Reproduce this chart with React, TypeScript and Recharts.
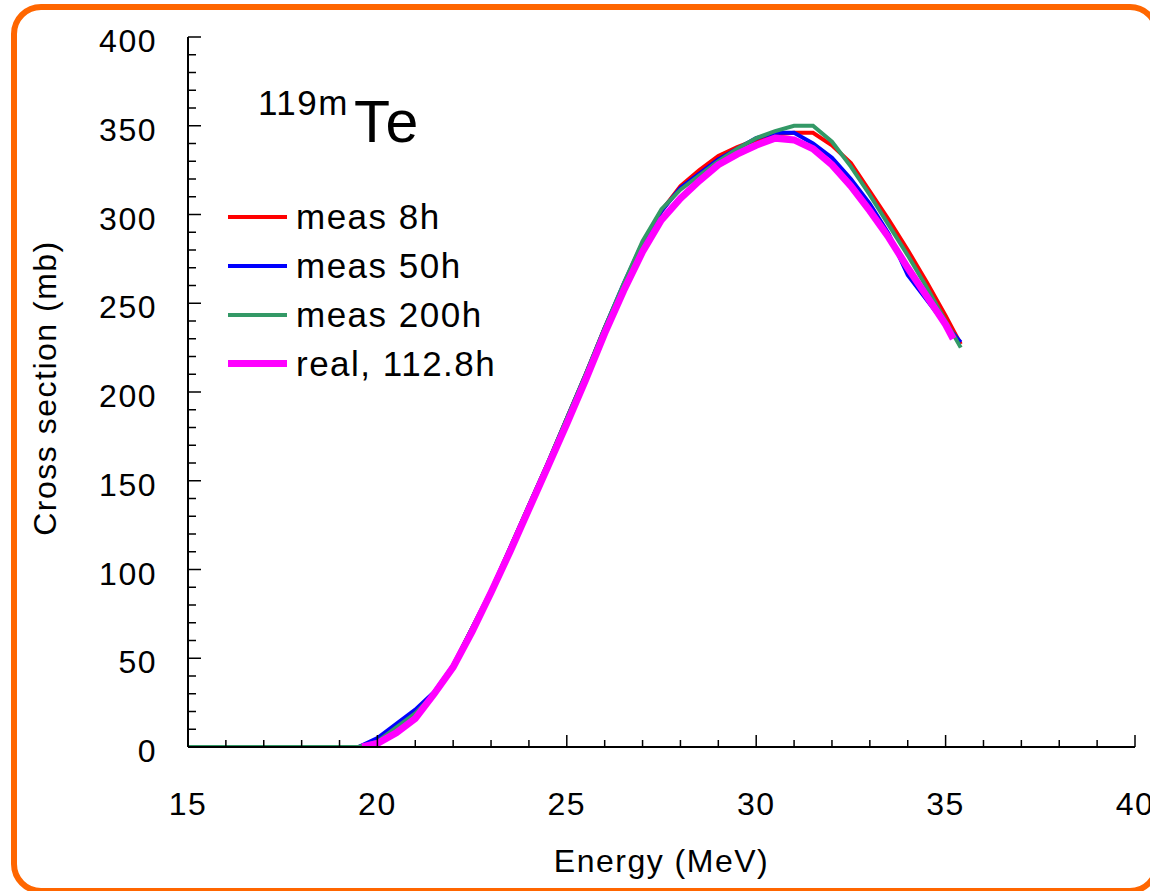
import React from 'react';
import { LineChart, Line, XAxis, YAxis, Legend } from 'recharts';

const FONT = '"Liberation Sans", Arial, Helvetica, sans-serif';

// Energy grid (MeV) for measured series
const energy = [15, 16, 17, 18, 19, 19.5, 20, 20.5, 21, 21.5, 22, 22.5, 23, 23.5, 24, 24.5, 25, 25.5, 26, 26.5, 27, 27.5, 28, 28.5, 29, 29.5, 30, 30.5, 31, 31.5, 32, 32.5, 33, 33.5, 34, 34.5, 35, 35.4];
const meas8h = [0, 0, 0, 0, 0, 0, 4, 12, 20, 30, 46, 67, 88, 112, 136, 160, 185, 210, 236, 260, 283, 302, 316, 325, 333, 338, 342, 345, 346, 346, 339, 329, 313, 297, 280, 262, 243, 227];
const meas50h = [0, 0, 0, 0, 0, 0, 5, 13, 21, 31, 46, 67, 88, 112, 136, 160, 185, 210, 236, 261, 284, 302, 315, 323, 331, 337, 343, 346, 346, 340, 332, 320, 306, 289, 266, 252, 238, 228];
const meas200h = [0, 0, 0, 0, 0, 0, 3, 11, 19, 30, 46, 67, 88, 112, 136, 160, 185, 210, 236, 261, 285, 303, 314, 322, 330, 337, 343, 347, 350, 350, 341, 327, 311, 294, 277, 259, 240, 225];

// Energy grid for the "real" series
const realEnergy = [19.6, 20, 20.5, 21, 21.5, 22, 22.5, 23, 23.5, 24, 24.5, 25, 25.5, 26, 26.5, 27, 27.5, 28, 28.5, 29, 29.5, 30, 30.5, 31, 31.5, 32, 32.5, 33, 33.5, 34, 34.5, 35, 35.2];
const real1128h = [0, 2, 8, 16, 30, 45, 65, 87, 110, 134, 158, 182, 207, 233, 257, 279, 297, 309, 319, 328, 334, 339, 343, 342, 337, 328, 316, 302, 287, 270, 254, 238, 230];

const xTicks = [15, 16, 17, 18, 19, 20, 21, 22, 23, 24, 25, 26, 27, 28, 29, 30, 31, 32, 33, 34, 35, 36, 37, 38, 39, 40];
const yTicks = [0, 10, 20, 30, 40, 50, 60, 70, 80, 90, 100, 110, 120, 130, 140, 150, 160, 170, 180, 190, 200, 210, 220, 230, 240, 250, 260, 270, 280, 290, 300, 310, 320, 330, 340, 350, 360, 370, 380, 390, 400];

const seriesNames = ['meas 8h', 'meas 50h', 'meas 200h', 'real, 112.8h'];
const seriesColors = ['#FF0000', '#0000FF', '#339966', '#FF00FF'];
const seriesWidths = [4, 4, 4, 7];

const zip = (xs: number[], ys: number[]) => xs.map((x, i) => ({ x, y: ys[i] }));
const seriesData = [
  zip(energy, meas8h),
  zip(energy, meas50h),
  zip(energy, meas200h),
  zip(realEnergy, real1128h),
];

const XTick = (props: any) => {
  const { x, y, payload } = props;
  const v = payload.value as number;
  const major = v % 5 === 0;
  return (
    <g>
      <line x1={x} x2={x} y1={y} y2={y - (major ? 12 : 7)} stroke="#000" strokeWidth={1.5} />
      {major && (
        <text x={x} y={y + 68} textAnchor="middle" fontSize={32} letterSpacing={1.5} fontFamily={FONT} fill="#000">
          {v}
        </text>
      )}
    </g>
  );
};

const YTick = (props: any) => {
  const { x, y, payload } = props;
  const v = payload.value as number;
  const major = v % 50 === 0;
  return (
    <g>
      <line x1={x} x2={x + (major ? 13 : 8)} y1={y} y2={y} stroke="#000" strokeWidth={1.5} />
      {major && (
        <text x={x - 31} y={y + 15} textAnchor="end" fontSize={32} letterSpacing={1.5} fontFamily={FONT} fill="#000">
          {v}
        </text>
      )}
    </g>
  );
};

const XLabel = (props: any) => {
  const vb = props.viewBox || {};
  return (
    <text x={vb.x + vb.width / 2} y={vb.y + 125} textAnchor="middle" fontSize={32} letterSpacing={1.5} fontFamily={FONT} fill="#000">
      Energy (MeV)
    </text>
  );
};

const YLabel = (props: any) => {
  const vb = props.viewBox || {};
  const cy = vb.y + vb.height / 2 - 4;
  return (
    <text x={56} y={cy} transform={`rotate(-90, 56, ${cy})`} textAnchor="middle" fontSize={32} letterSpacing={1.5} fontFamily={FONT} fill="#000">
      Cross section (mb)
    </text>
  );
};

const LegendContent = (props: any) => {
  const payload = [...(props.payload || [])].sort(
    (a: any, b: any) => seriesNames.indexOf(a.value) - seriesNames.indexOf(b.value)
  );
  return (
    <div style={{ fontFamily: FONT }}>
      {payload.map((entry: any, i: number) => {
        const idx = seriesNames.indexOf(entry.value);
        return (
          <div key={i} style={{ display: 'flex', alignItems: 'center', height: 49 }}>
            <div style={{ width: 59, height: seriesWidths[idx] ?? 4, background: entry.color }} />
            <span style={{ marginLeft: 9, fontSize: 35, letterSpacing: 1.5, color: '#000', lineHeight: '49px' }}>{entry.value}</span>
          </div>
        );
      })}
    </div>
  );
};

export default function App() {
  return (
    <div style={{ position: 'absolute', left: 0, top: 0, width: 1150, height: 891, overflow: 'hidden', background: '#fff' }}>
      <div
        style={{
          position: 'absolute',
          left: 11,
          top: 4,
          width: 1149,
          height: 890,
          border: '6px solid #FF6600',
          borderRadius: 30,
          boxSizing: 'border-box',
        }}
      />
      <div style={{ position: 'absolute', left: 0, top: 0 }}>
        <LineChart width={1150} height={891} margin={{ top: 37, right: 15, bottom: 0, left: 0 }}>
          <XAxis
            dataKey="x"
            type="number"
            domain={[15, 40]}
            ticks={xTicks}
            interval={0}
            height={144}
            tickSize={0}
            tickMargin={0}
            tickLine={false}
            tick={<XTick />}
            axisLine={{ stroke: '#000', strokeWidth: 2 }}
            allowDataOverflow
            label={<XLabel />}
          />
          <XAxis
            xAxisId="top"
            orientation="top"
            type="number"
            domain={[15, 40]}
            height={0}
            tick={false}
            tickLine={false}
            axisLine={{ stroke: '#000', strokeWidth: 2 }}
          />
          <YAxis
            type="number"
            domain={[0, 400]}
            ticks={yTicks}
            interval={0}
            width={188}
            tickSize={0}
            tickMargin={0}
            tickLine={false}
            tick={<YTick />}
            axisLine={{ stroke: '#000', strokeWidth: 2 }}
            allowDataOverflow
            label={<YLabel />}
          />
          <YAxis
            yAxisId="right"
            orientation="right"
            type="number"
            domain={[0, 400]}
            width={0}
            tick={false}
            tickLine={false}
            axisLine={{ stroke: '#000', strokeWidth: 2 }}
          />
          <Legend
            layout="vertical"
            align="center"
            verticalAlign="middle"
            wrapperStyle={{ position: 'absolute', left: 228, top: 192, width: 340 }}
            content={<LegendContent />}
          />
          {seriesData.map((d, i) => (
            <Line
              key={seriesNames[i]}
              data={d}
              dataKey="y"
              name={seriesNames[i]}
              type="linear"
              stroke={seriesColors[i]}
              strokeWidth={seriesWidths[i]}
              dot={false}
              activeDot={false}
              isAnimationActive={false}
              legendType="line"
            />
          ))}
        </LineChart>
      </div>
      <svg width={1150} height={891} style={{ position: 'absolute', left: 0, top: 0, pointerEvents: 'none' }}>
        <text x={258} y={115} fontSize={35} letterSpacing={1.5} fontFamily={FONT} fill="#000">119m</text>
        <text x={354} y={142} fontSize={59} letterSpacing={2} fontFamily={FONT} fill="#000">Te</text>
      </svg>
    </div>
  );
}
